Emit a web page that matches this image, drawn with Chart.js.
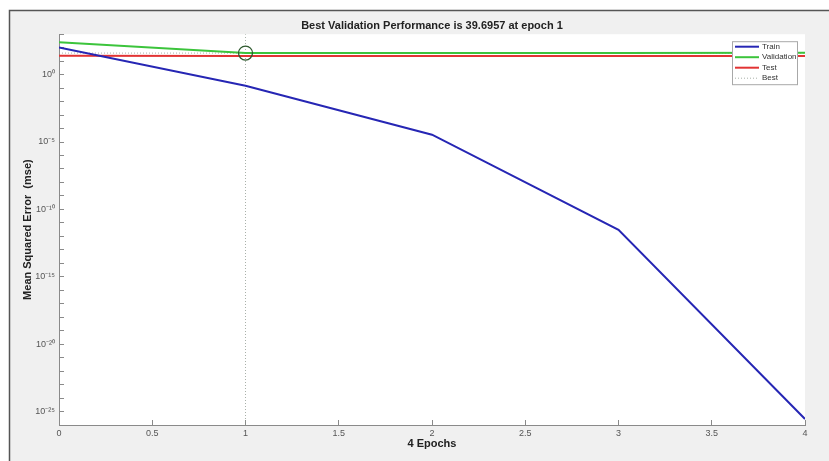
<!DOCTYPE html>
<html>
<head>
<meta charset="utf-8">
<script src="https://cdn.jsdelivr.net/npm/chart.js@4.4.1/dist/chart.umd.min.js"></script>
<style>
  html, body { margin: 0; padding: 0; background: #fff; }
  canvas { display: block; }
</style>
</head>
<body>
<canvas id="perf" width="829" height="461"></canvas>
<script>
// values
const epochs = [0, 1, 2, 3, 4];
const trainMse = [105, 0.15, 3.5e-5, 3e-12, 2.8e-26];
const validationMse = [250, 39.6957, 40.5, 41, 41.5];
const testMse = [25.5, 24.5, 24.2, 24.0, 24.0];
const bestEpoch = 1;
const bestValue = 39.6957;
const yMin = 1e-26;
const yMax = 1e3;
const yLabelExps = [0, -5, -10, -15, -20, -25];

const SUP = { '0': '⁰', '1': '¹', '2': '²', '3': '³', '4': '⁴', '5': '⁵', '6': '⁶', '7': '⁷', '8': '⁸', '9': '⁹', '-': '⁻' };
function pow10Label(e) {
  return '10' + String(e).split('').map(c => SUP[c]).join('');
}

function points(ys) {
  return epochs.map((x, i) => ({ x: x, y: ys[i] }));
}

const FONT = '"Liberation Sans", Arial, sans-serif';

const framePlugin = {
  id: 'frame',
  beforeDraw(chart) {
    const ctx = chart.ctx;
    const a = chart.chartArea;
    ctx.save();
    ctx.fillStyle = '#ffffff';
    ctx.fillRect(0, 0, chart.width, chart.height);
    ctx.fillStyle = '#f0f0f0';
    ctx.fillRect(9, 10, chart.width - 9, chart.height - 10);
    ctx.strokeStyle = '#555555';
    ctx.lineWidth = 1.5;
    ctx.beginPath();
    ctx.moveTo(9.5, chart.height);
    ctx.lineTo(9.5, 10.5);
    ctx.lineTo(chart.width, 10.5);
    ctx.stroke();
    ctx.fillStyle = '#ffffff';
    ctx.fillRect(a.left, a.top, a.right - a.left, a.bottom - a.top);
    ctx.restore();
  }
};

// MATLAB-style legend box inside the top right of the axes
const legendPlugin = {
  id: 'mlLegend',
  afterDraw(chart) {
    const ctx = chart.ctx;
    const a = chart.chartArea;
    const items = chart.data.datasets.filter(d => d.inLegend);
    const w = 65, rowH = 10.5;
    const h = items.length * rowH + 1;
    const x0 = a.right - 8 - w, y0 = a.top + 7;
    ctx.save();
    ctx.fillStyle = '#ffffff';
    ctx.fillRect(x0, y0, w, h);
    ctx.strokeStyle = '#a8a8a8';
    ctx.lineWidth = 1;
    ctx.strokeRect(x0 + 0.5, y0 + 0.5, w, h);
    ctx.font = '8px ' + FONT;
    ctx.textBaseline = 'middle';
    items.forEach((d, i) => {
      const cy = y0 + 5.5 + i * rowH;
      ctx.strokeStyle = d.borderColor;
      ctx.lineWidth = d.borderWidth;
      ctx.setLineDash(d.borderDash || []);
      ctx.beginPath();
      ctx.moveTo(x0 + 3, cy);
      ctx.lineTo(x0 + 27, cy);
      ctx.stroke();
      ctx.setLineDash([]);
      ctx.fillStyle = '#333333';
      ctx.fillText(d.label, x0 + 30, cy);
    });
    ctx.restore();
  }
};

const bestStyle = {
  borderColor: 'rgba(140,150,140,0.75)',
  borderWidth: 1,
  borderDash: [1, 2],
  pointRadius: 0,
  fill: false
};

new Chart(document.getElementById('perf').getContext('2d'), {
  type: 'line',
  data: {
    datasets: [
      { label: 'Train', data: points(trainMse), borderColor: '#2626b4', borderWidth: 2, pointRadius: 0, inLegend: true },
      { label: 'Validation', data: points(validationMse), borderColor: '#3cc43c', borderWidth: 2, pointRadius: 0, inLegend: true },
      { label: 'Test', data: points(testMse), borderColor: '#e23434', borderWidth: 2, pointRadius: 0, inLegend: true },
      Object.assign({ label: 'Best', data: [{ x: bestEpoch, y: yMin }, { x: bestEpoch, y: yMax }], inLegend: true }, bestStyle),
      Object.assign({ label: 'Best', data: [{ x: epochs[0], y: bestValue }, { x: epochs[epochs.length - 1], y: bestValue }] }, bestStyle),
      {
        label: 'Best point', data: [{ x: bestEpoch, y: bestValue }], showLine: false,
        pointRadius: 7, pointBorderWidth: 1.3, pointBorderColor: '#2f5a2f',
        pointBackgroundColor: 'rgba(0,0,0,0)', order: -1
      }
    ]
  },
  options: {
    responsive: false,
    animation: false,
    layout: { padding: { left: 10, top: 0, right: 24, bottom: 0 } },
    plugins: {
      legend: { display: false },
      tooltip: { enabled: false },
      title: {
        display: true,
        fullSize: false,
        text: 'Best Validation Performance is 39.6957 at epoch 1',
        color: '#222222',
        font: { family: FONT, size: 11, weight: 'bold' },
        padding: { top: 19, bottom: 2 }
      }
    },
    scales: {
      x: {
        type: 'linear',
        min: 0,
        max: 4,
        afterFit(scale) { scale.height = 36; },
        ticks: {
          stepSize: 0.5,
          color: '#555555',
          padding: 8,
          font: { family: FONT, size: 9 },
          callback(v) { return String(v); }
        },
        grid: { drawOnChartArea: false, tickLength: -5, color: '#8a8a8a' },
        border: { color: '#8a8a8a' },
        title: {
          display: true,
          text: '4 Epochs',
          color: '#222222',
          font: { family: FONT, size: 11, weight: 'bold' },
          padding: { top: 0, bottom: 10 }
        }
      },
      y: {
        type: 'logarithmic',
        min: yMin,
        max: yMax,
        afterFit(scale) { scale.width = 49; },
        afterBuildTicks(scale) {
          const t = [];
          for (let e = Math.log10(yMin); e <= Math.log10(yMax); e++) t.push({ value: Math.pow(10, e) });
          scale.ticks = t;
        },
        ticks: {
          autoSkip: false,
          color: '#555555',
          padding: 9,
          font: { family: FONT, size: 9 },
          callback(v) {
            const e = Math.round(Math.log10(v));
            return yLabelExps.includes(e) ? pow10Label(e) : '';
          }
        },
        grid: { drawOnChartArea: false, tickLength: -5, color: '#8a8a8a' },
        border: { color: '#8a8a8a' },
        title: {
          display: true,
          text: 'Mean Squared Error  (mse)',
          color: '#222222',
          font: { family: FONT, size: 11, weight: 'bold' },
          padding: { top: 11, bottom: 0 }
        }
      }
    }
  },
  plugins: [framePlugin, legendPlugin]
});
</script>
</body>
</html>
